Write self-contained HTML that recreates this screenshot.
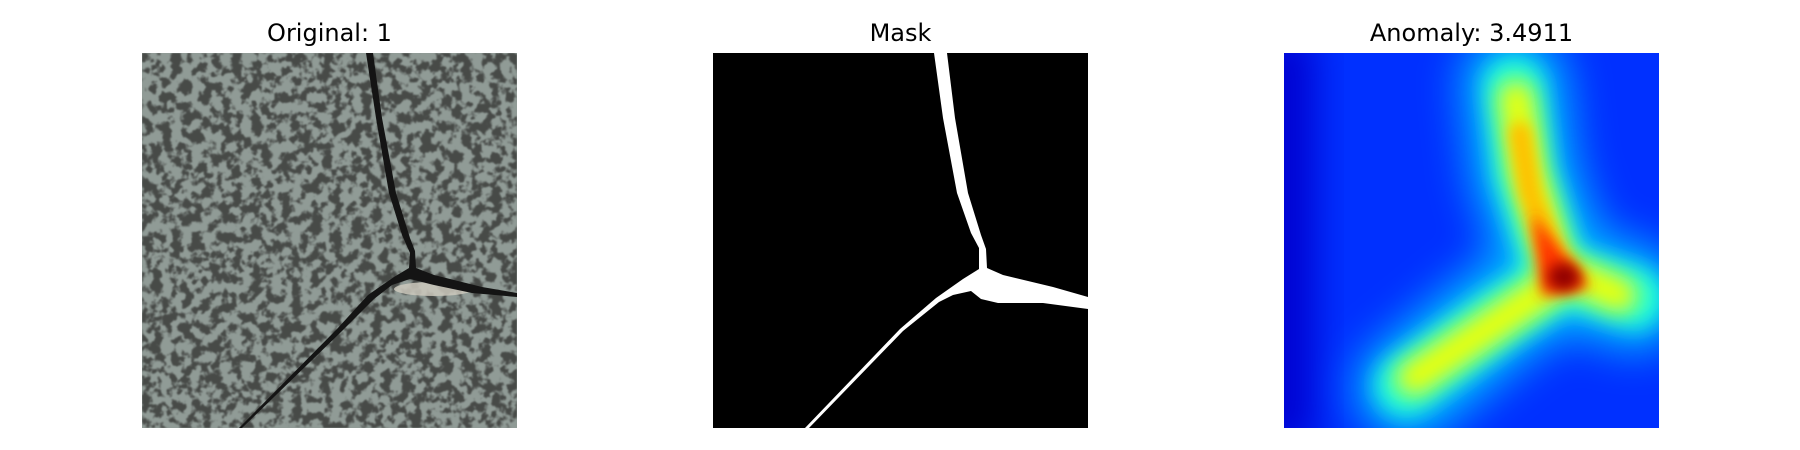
<!DOCTYPE html>
<html><head><meta charset="utf-8"><style>
html,body{margin:0;padding:0;background:#fff;}
body{width:1800px;height:450px;position:relative;overflow:hidden;font-family:"DejaVu Sans","Liberation Sans",sans-serif;}
.title{position:absolute;top:19px;width:375px;text-align:center;font-size:24px;color:#000;}
.panel{position:absolute;top:53px;width:375px;height:375px;}
</style></head><body>
<div class="title" style="left:142px">Original: 1</div>
<div class="title" style="left:713px">Mask</div>
<div class="title" style="left:1284px">Anomaly: 3.4911</div>

<svg class="panel" style="left:142px" viewBox="0 0 375 375">
<defs>
<filter id="tex" x="0" y="0" width="100%" height="100%" color-interpolation-filters="sRGB">
<feTurbulence type="fractalNoise" baseFrequency="0.1" numOctaves="3" seed="4" result="n"/>
<feColorMatrix in="n" type="matrix" values="0 0 0 0 0.28  0 0 0 0 0.29  0 0 0 0 0.28  8 0 0 0 -3.6" result="d"/>
<feGaussianBlur in="d" stdDeviation="0.7" result="d2"/>
<feComposite in="d2" in2="SourceGraphic" operator="over"/>
</filter>
</defs>
<rect width="375" height="375" fill="#909b96" filter="url(#tex)"/>
<ellipse cx="292" cy="236" rx="40" ry="7" fill="#cdc9bd" opacity="0.85"/>
<path d="M224,0 L231,0 L240,65 L254,140 L268,185 L273,198 L274,215 L292,222 L340,234 L375,240 L375,244 L330,240 L292,232 L268,226 L250,232 L232,246 L200,278 L100,375 L97,375 L195,276 L226,242 L252,224 L267,215 L268,200 L260,182 L247,140 L234,65 Z" fill="#141414"/>
</svg>

<svg class="panel" style="left:713px" viewBox="0 0 375 375">
<rect width="375" height="375" fill="#000"/>
<path d="M221,0 L234,0 L242,65 L255,140 L268,182 L273,196 L274,215 L290,222 L340,234 L375,244 L375,256 L330,250 L285,250 L268,246 L258,238 L240,242 L226,249 L190,278 L96,375 L92,375 L187,276 L223,245 L250,226 L266,216 L266,195 L258,180 L244,140 L230,65 Z" fill="#fff"/>
</svg>

<svg class="panel" style="left:1284px" viewBox="0 0 375 375">
<defs>
<filter id="b1" x="-50%" y="-50%" width="200%" height="200%"><feGaussianBlur stdDeviation="20"/></filter>
<filter id="b2" x="-50%" y="-50%" width="200%" height="200%"><feGaussianBlur stdDeviation="11"/></filter>
<filter id="b3" x="-50%" y="-50%" width="200%" height="200%"><feGaussianBlur stdDeviation="7"/></filter>
<clipPath id="c"><rect width="375" height="375"/></clipPath>
</defs>
<g clip-path="url(#c)">
<rect width="375" height="375" fill="#0030ff"/>
<rect x="-30" y="-20" width="60" height="415" fill="#0000d0" filter="url(#b1)"/>
<g fill="none" stroke-linecap="round" stroke-linejoin="round">
<path d="M230,30 L240,120 L275,220 L350,245 M272,225 L215,262 L125,335" stroke="#00a8ff" stroke-width="110" filter="url(#b1)"/>
<path d="M230,35 L240,120 L272,220 L350,245 M272,228 L215,265 L122,332" stroke="#20ffd8" stroke-width="62" filter="url(#b2)"/>
<path d="M232,45 L243,120 L272,215 L335,242 M268,232 L215,268 L130,325" stroke="#e8ff10" stroke-width="36" filter="url(#b2)"/>
<path d="M236,80 L246,140 L270,205 L285,225" stroke="#ffc000" stroke-width="22" filter="url(#b3)"/>
</g>
<path d="M248,160 L306,234 L258,244 Z" fill="#ff3000" filter="url(#b3)"/>
<ellipse cx="280" cy="224" rx="16" ry="14" fill="#900000" filter="url(#b3)"/>
</g>
</svg>
</body></html>
